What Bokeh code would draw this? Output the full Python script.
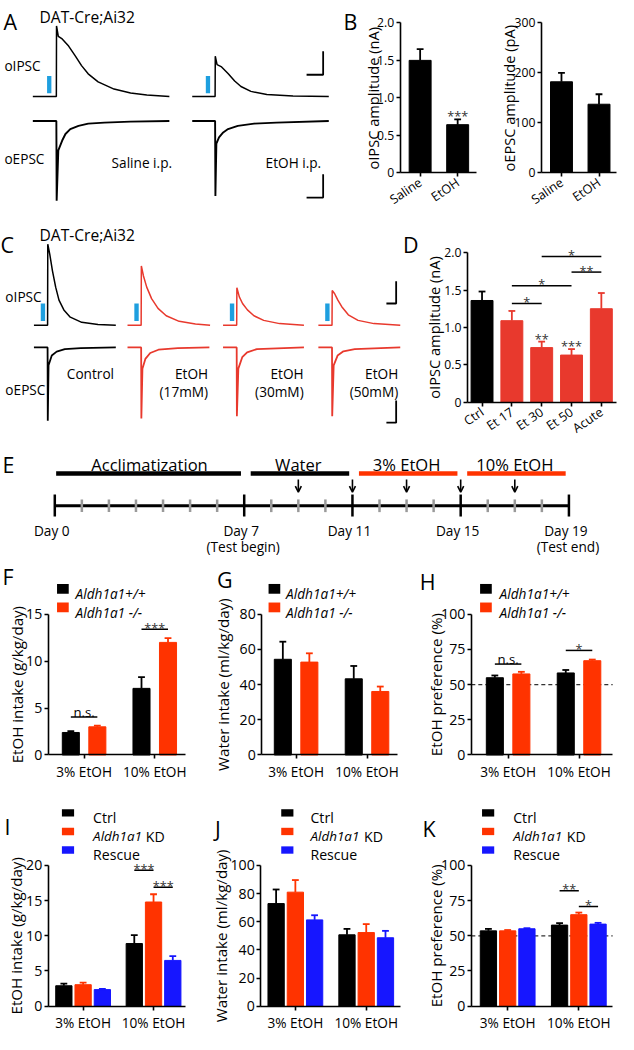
import math
from bokeh.plotting import figure
from bokeh.models import (Range1d, LinearAxis, FixedTicker, CustomJSTickFormatter, Label,
                          ColumnDataSource, Arrow, OpenHead)
from bokeh.core.properties import value
from bokeh.embed import file_html
from bokeh.resources import INLINE

# ======================= DATA =======================
# Panel A: example traces (time in ms from response onset, current in pA)
A_ipsc_sal_t = [-71, 0, 0.5, 5.9, 17.6, 37, 57, 76, 96, 126, 174, 224, 273, 341]
A_ipsc_sal_i = [0, 0, 1506, 1285, 1229, 1077, 869, 660, 485, 312, 160, 77, 35, 0]
A_ipsc_eth_t = [-69, 0, 0.5, 5.9, 19.6, 39, 59, 78, 108, 156, 235, 343]
A_ipsc_eth_i = [0, 0, 860, 681, 632, 493, 333, 215, 111, 42, 14, 0]
A_epsc_sal_t = [-71, 0, 0.9, 5.9, 17.6, 27.4, 42, 66.8, 96.2, 145, 223.5, 341]
A_epsc_sal_i = [0, 0, -1702, -625, -417, -277, -173, -104, -56, -35, -15, 0]
A_epsc_eth_t = [-69, 0, 0.9, 3.8, 11.8, 24.4, 39, 68.5, 117.6, 185, 343]
A_epsc_eth_i = [0, 0, -1598, -485, -348, -244, -173, -104, -56, -35, 0]
A_conditions = ["Saline i.p.", "EtOH i.p."]

# Panel B
B_groups = ["Saline", "EtOH"]
B_oipsc = [1.50, 0.64]
B_oipsc_err = [0.15, 0.07]
B_oepsc = [182, 137]
B_oepsc_err = [18, 20]

# Panel C: example traces
C_ipsc_ctrl_t = [-70, 0, 1, 11.5, 25, 41.5, 58.5, 83.5, 116.5, 175, 258.5, 350]
C_ipsc_ctrl_i = [0, 0, 1828, 1593, 1227, 859, 566, 346, 183, 66, 15, 0]
C_ipsc_17_t = [-70, 0, 1, 11.5, 28.5, 53.5, 86.5, 128.5, 195, 278.5, 353.5]
C_ipsc_17_i = [0, 0, 1337, 1117, 859, 601, 381, 214, 88, 29, 0]
C_ipsc_30_t = [-70, 0, 1, 13.5, 30, 55, 88.5, 138.5, 220, 345]
C_ipsc_30_i = [0, 0, 844, 639, 491, 346, 214, 110, 37, 0]
C_ipsc_50_t = [-70, 0, 1, 13.5, 30, 50, 83.5, 133.5, 215, 350]
C_ipsc_50_i = [0, 0, 786, 711, 566, 419, 236, 110, 37, 0]
C_epsc_ctrl_t = [-70, 0, 1, 5, 21.5, 46.5, 88.5, 170, 350]
C_epsc_ctrl_i = [0, 0, -1650, -403, -183, -95, -37, -15, 0]
C_epsc_17_t = [-70, 0, 1, 6.5, 21.5, 46.5, 88.5, 188.5, 350]
C_epsc_17_i = [0, 0, -1600, -478, -258, -126, -51, -15, 0]
C_epsc_30_t = [-70, 0, 1, 8.5, 28.5, 53.5, 103.5, 345]
C_epsc_30_i = [0, 0, -1550, -478, -220, -110, -37, 0]
C_epsc_50_t = [-70, 0, 1, 8.5, 28.5, 58.5, 116.5, 350]
C_epsc_50_i = [0, 0, -1550, -403, -183, -88, -37, 0]

# Panel D
D_groups = ["Ctrl", "Et 17", "Et 30", "Et 50", "Acute"]
D_oipsc = [1.36, 1.09, 0.73, 0.63, 1.25]
D_oipsc_err = [0.12, 0.13, 0.08, 0.08, 0.21]

# Panel E
E_phases = ["Acclimatization", "Water", "3% EtOH", "10% EtOH"]
E_phase_start = [0, 7, 11, 15]
E_phase_end = [7, 11, 15, 19]
E_test_days = [9, 11, 13, 15, 17]
E_major_days = [0, 7, 11, 15, 19]
E_major_labels = ["Day 0", "Day 7", "Day 11", "Day 15", "Day 19"]
E_sub_days = [7, 19]
E_sub_labels = ["(Test begin)", "(Test end)"]

# Panels F-H
KO_groups = ["3% EtOH", "10% EtOH"]
KO_series = ["Aldh1a1+/+", "Aldh1a1 -/-"]
F_wt = [2.4, 7.1]
F_wt_err = [0.15, 1.2]
F_ko = [3.0, 12.0]
F_ko_err = [0.12, 0.45]
G_wt = [54.4, 43.3]
G_wt_err = [10.0, 7.3]
G_ko = [52.8, 36.1]
G_ko_err = [5.0, 2.8]
H_wt = [54.9, 58.3]
H_wt_err = [1.6, 2.1]
H_ko = [57.6, 67.0]
H_ko_err = [1.5, 0.8]

# Panels I-K
KD_series = ["Ctrl", "Aldh1a1", "Rescue"]
I_ctrl = [2.9, 8.9]
I_ctrl_err = [0.3, 1.2]
I_kd = [3.05, 14.8]
I_kd_err = [0.3, 1.1]
I_res = [2.35, 6.5]
I_res_err = [0.1, 0.6]
J_ctrl = [72.9, 50.7]
J_ctrl_err = [10.0, 4.2]
J_kd = [81.0, 52.3]
J_kd_err = [8.6, 6.0]
J_res = [61.3, 48.6]
J_res_err = [3.3, 4.9]
K_ctrl = [53.5, 57.6]
K_ctrl_err = [1.4, 1.4]
K_kd = [53.5, 65.0]
K_kd_err = [0.6, 1.5]
K_res = [55.0, 58.3]
K_res_err = [0.4, 0.9]

# significance: (group, series a, series b, level, text)
F_sig = [(0, 0, 1, 4.06, "n.s."), (1, 0, 1, 13.4, "***")]
H_sig = [(0, 0, 1, 64.6, "n.s."), (1, 0, 1, 74.3, "*")]
I_sig = [(1, 0, 1, 19.3, "***"), (1, 1, 2, 16.9, "***")]
K_sig = [(1, 0, 1, 82.0, "**"), (1, 1, 2, 70.8, "*")]
D_sig = [(1, 2, 1.32, "*"), (1, 3, 1.556, "*"), (3, 4, 1.74, "**"), (2, 4, 1.95, "*")]
D_bar_sig = [(2, "**"), (3, "***")]
B_bar_sig = [(1, "***")]

# ======================= STYLE / LAYOUT =======================
FONT = "Open Sans"
W, H = 618, 1034
REF_W, REF_H = 634, 1058
FS = W / REF_W
BLACK = "#000000"
RED_C = "#e8392d"
RED = "#ff3300"
BLUE = "#1616ff"
STIM = "#1e9fdf"
STAR_COLOR = "#333333"


def fs(px):
    return f"{px * FS:.2f}px"


p = figure(width=W, height=H, x_range=Range1d(0, REF_W), y_range=Range1d(REF_H, 0),
           x_axis_type=None, y_axis_type=None, toolbar_location=None, output_backend="svg",
           min_border=0, outline_line_color=None)
p.background_fill_color = "white"
p.border_fill_color = "white"


def label(text, x, y, size, align="left", baseline="alphabetic", angle=0.0, style="normal",
          color="black"):
    p.add_layout(Label(x=x, y=y, text=text, text_font=FONT, text_font_size=fs(size),
                       text_align=align, text_baseline=baseline, angle=angle,
                       text_font_style=style, text_color=color))


def chart(key, axis_px, end_px, c0_px, sp_px, y0_px, ytop_px, ymax, yticks, xlabels,
          tick_size, xlab_size, yfmt=None, xorient=None, xstandoff=3):
    xr, yr = key + "_x", key + "_y"
    p.extra_x_ranges[xr] = Range1d(start=(0 - c0_px) / sp_px, end=(REF_W - c0_px) / sp_px)
    k = ymax / (y0_px - ytop_px)
    p.extra_y_ranges[yr] = Range1d(start=k * (y0_px - REF_H), end=k * y0_px)
    ax = (axis_px - c0_px) / sp_px
    ex = (end_px - c0_px) / sp_px
    common = dict(x_range_name=xr, y_range_name=yr, axis_line_width=1.6, axis_line_color="black",
                  major_tick_line_width=1.6, major_tick_line_color="black", major_tick_in=0,
                  major_tick_out=4, minor_tick_in=0, minor_tick_out=0,
                  major_label_text_font=FONT, major_label_text_color="black")
    ya = LinearAxis(fixed_location=ax, bounds=(0, ymax),
                    ticker=FixedTicker(ticks=yticks, minor_ticks=[]),
                    major_label_text_font_size=fs(tick_size), major_label_standoff=2, **common)
    if yfmt is not None:
        ya.formatter = yfmt
    p.add_layout(ya, "left")
    xa = LinearAxis(fixed_location=0, bounds=(ax, ex),
                    ticker=FixedTicker(ticks=list(range(len(xlabels))), minor_ticks=[]),
                    formatter=CustomJSTickFormatter(args=dict(labels=xlabels), code=(
                        "const i = Math.round(tick); "
                        "return (i >= 0 && i < labels.length) ? labels[i] : '';")),
                    major_label_text_font_size=fs(xlab_size), major_label_standoff=xstandoff,
                    **common)
    if xorient is not None:
        xa.major_label_orientation = xorient
    p.add_layout(xa, "below")
    return dict(xr=xr, yr=yr, sp=sp_px, ax=ax, ex=ex)


def rn(ch):
    return dict(x_range_name=ch["xr"], y_range_name=ch["yr"])


def bars(ch, xs, vals, errs, colors, width_px, cap_px=7.0, lw=1.8):
    w = width_px / ch["sp"]
    c = cap_px / 2 / ch["sp"]
    tops = [v + e for v, e in zip(vals, errs)]
    p.segment(x0=xs, y0=vals, x1=xs, y1=tops, line_color=colors, line_width=lw, **rn(ch))
    p.segment(x0=[x - c for x in xs], y0=tops, x1=[x + c for x in xs], y1=tops,
              line_color=colors, line_width=lw, **rn(ch))
    p.vbar(x=xs, top=vals, bottom=0, width=w, fill_color=colors, line_color=colors,
           line_width=1, **rn(ch))
    return tops


def sig(ch, x1, x2, level, text, size=13):
    p.segment(x0=[x1], y0=[level], x1=[x2], y1=[level], line_color="black", line_width=1.5,
              **rn(ch))
    is_ns = text == "n.s."
    p.text(x=[(x1 + x2) / 2], y=[level], text=[text], text_align="center",
           text_baseline="alphabetic", y_offset=-5 if is_ns else -1.5,
           text_font=value(FONT), text_font_size=fs(13.5 if is_ns else size),
           text_color="black" if is_ns else STAR_COLOR, **rn(ch))


def bar_star(ch, x, top, text, size=13):
    p.text(x=[x], y=[top], text=[text], text_align="center", text_baseline="alphabetic",
           y_offset=-3, text_font=value(FONT), text_font_size=fs(size),
           text_color=STAR_COLOR, **rn(ch))


# ======================= PANEL A =======================
A_X0, A_PXMS, A_Y0, A_PXPA = 57.3, 0.34, 98.3, 0.048
A_cols = [0, 479]
A_EPSC_OFF = -520
p.extra_x_ranges["A_t"] = Range1d(-A_X0 / A_PXMS, (REF_W - A_X0) / A_PXMS)
p.extra_y_ranges["A_i"] = Range1d((A_Y0 - REF_H) / A_PXPA, A_Y0 / A_PXPA)
arn = dict(x_range_name="A_t", y_range_name="A_i")
for col, (it, ii, et, ei) in zip(A_cols, [(A_ipsc_sal_t, A_ipsc_sal_i, A_epsc_sal_t, A_epsc_sal_i),
                                          (A_ipsc_eth_t, A_ipsc_eth_i, A_epsc_eth_t, A_epsc_eth_i)]):
    p.quad(left=[col - 28], right=[col - 15], bottom=[70], top=[440], fill_color=STIM,
           line_color=None, **arn)
    p.line(x=[t + col for t in it], y=ii, line_color=BLACK, line_width=1.5, **arn)
    p.line(x=[t + col for t in et], y=[v + A_EPSC_OFF for v in ei], line_color=BLACK,
           line_width=1.9, **arn)
# scale bars (50 ms, 500 pA)
for vy in (465, -2154):
    p.line(x=[805 - 50, 805, 805], y=[vy, vy, vy + 500], line_color=BLACK, line_width=1.8, **arn)

label("A", 3, 21, 22)
label("DAT-Cre;Ai32", 40, 17, 16)
label("oIPSC", 4, 66, 14)
label("oEPSC", 4, 162, 14)
label(A_conditions[0], 176, 166, 14, align="right")
label(A_conditions[1], 329, 166, 14, align="right")

# ======================= PANEL B =======================
fmt1 = CustomJSTickFormatter(code="return tick == 0 ? '0' : tick.toFixed(1);")
chB1 = chart("B1", 410, 488, 430.5, 38.5, 176, 23, 2.0, [0, 0.5, 1.0, 1.5, 2.0], B_groups,
             12.5, 13, yfmt=fmt1, xorient=0.6, xstandoff=4)
tops = bars(chB1, [0, 1], B_oipsc, B_oipsc_err, [BLACK, BLACK], 22.5)
for i, s in B_bar_sig:
    bar_star(chB1, i, tops[i], s)
chB2 = chart("B2", 555, 632, 575.5, 38.5, 176, 23, 300, [0, 100, 200, 300], B_groups,
             12.5, 13, xorient=0.6, xstandoff=4)
bars(chB2, [0, 1], B_oepsc, B_oepsc_err, [BLACK, BLACK], 22.5)
label("B", 352, 21, 22)
label("oIPSC amplitude (nA)", 382, 100, 15, align="center", angle=math.pi / 2)
label("oEPSC amplitude (pA)", 522, 100, 15, align="center", angle=math.pi / 2)

# ======================= PANEL C =======================
C_X0, C_PXMS, C_Y0, C_PXPA = 48.3, 0.2, 332.3, 0.0454
C_cols = [0, 480, 970, 1459]
C_EPSC_OFF = -500
p.extra_x_ranges["C_t"] = Range1d(-C_X0 / C_PXMS, (REF_W - C_X0) / C_PXMS)
p.extra_y_ranges["C_i"] = Range1d((C_Y0 - REF_H) / C_PXPA, C_Y0 / C_PXPA)
crn = dict(x_range_name="C_t", y_range_name="C_i")
C_traces = [(C_ipsc_ctrl_t, C_ipsc_ctrl_i, C_epsc_ctrl_t, C_epsc_ctrl_i, BLACK),
            (C_ipsc_17_t, C_ipsc_17_i, C_epsc_17_t, C_epsc_17_i, RED_C),
            (C_ipsc_30_t, C_ipsc_30_i, C_epsc_30_t, C_epsc_30_i, RED_C),
            (C_ipsc_50_t, C_ipsc_50_i, C_epsc_50_t, C_epsc_50_i, RED_C)]
for col, (it, ii, et, ei, colr) in zip(C_cols, C_traces):
    p.quad(left=[col - 35], right=[col - 12.5], bottom=[95], top=[491], fill_color=STIM,
           line_color=None, **crn)
    p.line(x=[t + col for t in it], y=ii, line_color=colr, line_width=1.5, **crn)
    p.line(x=[t + col for t in et], y=[v + C_EPSC_OFF for v in ei], line_color=colr,
           line_width=1.8, **crn)
for vy in (490, -2196):
    p.line(x=[1788 - 50, 1788, 1788], y=[vy, vy, vy + 500], line_color=BLACK, line_width=1.8,
           **crn)

label("C", 0, 250, 22)
label("DAT-Cre;Ai32", 40, 240, 16)
label("oIPSC", 5, 303, 14)
label("oEPSC", 5, 398, 14)
label("Control", 68, 382, 14)
for xr_, conc in [(213, "(17mM)"), (311, "(30mM)"), (408, "(50mM)")]:
    label("EtOH", xr_, 382, 14, align="right")
    label(conc, xr_, 400, 14, align="right")

# ======================= PANEL D =======================
chD = chart("D", 479, 632, 494, 30.6, 411, 258, 2.0, [0, 0.5, 1.0, 1.5, 2.0], D_groups,
            12.5, 13, yfmt=fmt1, xorient=0.6, xstandoff=4)
tops = bars(chD, list(range(5)), D_oipsc, D_oipsc_err, [BLACK, RED_C, RED_C, RED_C, RED_C], 22.5)
for i, s in D_bar_sig:
    bar_star(chD, i, tops[i], s)
for a, b, lev, s in D_sig:
    sig(chD, a, b, lev, s)
label("D", 413, 250, 22)
label("oIPSC amplitude (nA)", 445, 334.5, 15, align="center", angle=math.pi / 2)

# ======================= PANEL E =======================
E_X0, E_PXD = 55.7, 27.76
p.extra_x_ranges["E_d"] = Range1d(-E_X0 / E_PXD, (REF_W - E_X0) / E_PXD)
ern = dict(x_range_name="E_d")
E_colors = [BLACK, BLACK, RED, RED]
p.segment(x0=[s + (0.24 if s > 0 else 0.05) for s in E_phase_start], y0=[484] * 4,
          x1=[e - 0.12 for e in E_phase_end], y1=[484] * 4, line_color=E_colors, line_width=4.5,
          line_cap="butt", **ern)
p.text(x=[(s + e) / 2 for s, e in zip(E_phase_start, E_phase_end)], y=[475] * 4, text=E_phases,
       text_align="center", text_baseline="alphabetic", text_font=value(FONT),
       text_font_size=fs(17), **ern)
p.add_layout(Arrow(end=OpenHead(size=6, line_width=1.6, line_color=BLACK),
                   source=ColumnDataSource(dict(x=E_test_days, y0=[490] * 5, y1=[503] * 5)),
                   x_start="x", y_start="y0", x_end="x", y_end="y1", line_width=1.6,
                   line_color=BLACK, x_range_name="E_d"))
p.segment(x0=[E_major_days[0]], y0=[517], x1=[E_major_days[-1]], y1=[517], line_color=BLACK,
          line_width=3, **ern)
minor_days = [d for d in range(E_major_days[0], E_major_days[-1] + 1) if d not in E_major_days]
p.segment(x0=minor_days, y0=[510.5] * len(minor_days), x1=minor_days,
          y1=[523.5] * len(minor_days), line_color="#9a9a9a", line_width=2.5, **ern)
p.segment(x0=E_major_days, y0=[505.5] * 5, x1=E_major_days, y1=[528] * 5, line_color=BLACK,
          line_width=2.5, **ern)
p.text(x=E_major_days, y=[542] * 5, text=E_major_labels, x_offset=-3, text_align="center",
       text_baseline="alphabetic", text_font=value(FONT), text_font_size=fs(14), **ern)
p.text(x=E_sub_days, y=[559] * 2, text=E_sub_labels, x_offset=-1, text_align="center",
       text_baseline="alphabetic", text_font=value(FONT), text_font_size=fs(14), **ern)
label("E", 2, 475, 22)

# ======================= PANELS F-H =======================
OFF2 = [-13.6, 13.6]


def two_series(ch, wt, wt_err, ko, ko_err, sigs):
    xs_wt = [g + OFF2[0] / ch["sp"] for g in range(2)]
    xs_ko = [g + OFF2[1] / ch["sp"] for g in range(2)]
    bars(ch, xs_wt, wt, wt_err, [BLACK] * 2, 17.5)
    bars(ch, xs_ko, ko, ko_err, [RED] * 2, 17.5)
    for g, a, b, lev, s in sigs:
        sig(ch, g + OFF2[a] / ch["sp"], g + OFF2[b] / ch["sp"], lev, s)


def legend2(sq_x, txt_x):
    for (y_top, colr, name) in [(597, BLACK, KO_series[0]), (616, RED, KO_series[1])]:
        p.quad(left=[sq_x], right=[sq_x + 12], top=[y_top], bottom=[y_top + 10], fill_color=colr,
               line_color=None)
        label(name, txt_x, y_top + 10, 14, style="italic")


chF = chart("F", 49, 190, 85.75, 72.5, 772, 628, 15, [0, 5, 10, 15], KO_groups, 14.5, 14)
two_series(chF, F_wt, F_wt_err, F_ko, F_ko_err, F_sig)
legend2(58, 77)
label("F", 2, 589, 22)
label("EtOH intake (g/kg/day)", 17, 700, 15.5, align="center", angle=math.pi / 2)

chG = chart("G", 268, 407, 303.25, 72.75, 772, 628, 80, [0, 20, 40, 60, 80], KO_groups, 14.5, 14)
two_series(chG, G_wt, G_wt_err, G_ko, G_ko_err, [])
legend2(275, 293)
label("G", 222, 592, 22)
label("Water intake (ml/kg/day)", 228, 700, 15.5, align="center", angle=math.pi / 2)

chH = chart("H", 483, 628, 520.75, 72.75, 772, 628, 100, [0, 25, 50, 75, 100], KO_groups, 14.5,
            14)
p.segment(x0=[chH["ax"]], y0=[50], x1=[chH["ex"]], y1=[50], line_color="#333333",
          line_width=1.3, line_dash="4 3", **rn(chH))
two_series(chH, H_wt, H_wt_err, H_ko, H_ko_err, H_sig)
legend2(492, 512)
label("H", 430, 594, 22)
label("EtOH preference (%)", 447, 700, 15.5, align="center", angle=math.pi / 2)

# ======================= PANELS I-K =======================
OFF3 = [-19.75, 0.0, 19.75]


def three_series(ch, series, sigs):
    cols = [BLACK, RED, BLUE]
    for s_i, (vals, errs) in enumerate(series):
        xs = [g + OFF3[s_i] / ch["sp"] for g in range(2)]
        bars(ch, xs, vals, errs, [cols[s_i]] * 2, 16.7)
    for g, a, b, lev, s in sigs:
        sig(ch, g + OFF3[a] / ch["sp"], g + OFF3[b] / ch["sp"], lev, s)


def legend3(sq_x, txt_x, kd_x):
    cols = [BLACK, RED, BLUE]
    rows = [827.5, 846.5, 865.5]
    for r, colr in zip(rows, cols):
        p.quad(left=[sq_x], right=[sq_x + 12.5], top=[r], bottom=[r + 7.5], fill_color=colr,
               line_color=None)
    label(KD_series[0], txt_x, 836, 14.5)
    label(KD_series[1], txt_x, 855, 13.8, style="italic")
    label("KD", kd_x, 855, 14.5)
    label(KD_series[2], txt_x, 873.5, 14.5)


chI = chart("I", 49, 190, 84.75, 72.25, 1029, 885, 20, [0, 5, 10, 15, 20], KO_groups, 14.5, 14)
three_series(chI, [(I_ctrl, I_ctrl_err), (I_kd, I_kd_err), (I_res, I_res_err)], I_sig)
legend3(63, 95, 149)
label("I", 4, 845, 22)
label("EtOH intake (g/kg/day)", 16, 957, 15.5, align="center", angle=math.pi / 2)

chJ = chart("J", 267, 410, 302.5, 72.7, 1029, 885, 100, [0, 20, 40, 60, 80, 100], KO_groups,
            14.5, 14)
three_series(chJ, [(J_ctrl, J_ctrl_err), (J_kd, J_kd_err), (J_res, J_res_err)], [])
legend3(288, 318, 373)
label("J", 220, 847, 22)
label("Water intake (ml/kg/day)", 226, 957, 15.5, align="center", angle=math.pi / 2)

chK = chart("K", 483, 628, 520.3, 73, 1029, 885, 100, [0, 25, 50, 75, 100], KO_groups, 14.5, 14)
p.segment(x0=[chK["ax"]], y0=[50], x1=[chK["ex"]], y1=[50], line_color="#333333",
          line_width=1.3, line_dash="4 3", **rn(chK))
three_series(chK, [(K_ctrl, K_ctrl_err), (K_kd, K_kd_err), (K_res, K_res_err)], K_sig)
legend3(494, 526, 581)
label("K", 433, 847, 22)
label("EtOH preference (%)", 447, 957, 15.5, align="center", angle=math.pi / 2)

open("out.html", "w").write(file_html(p, INLINE))
